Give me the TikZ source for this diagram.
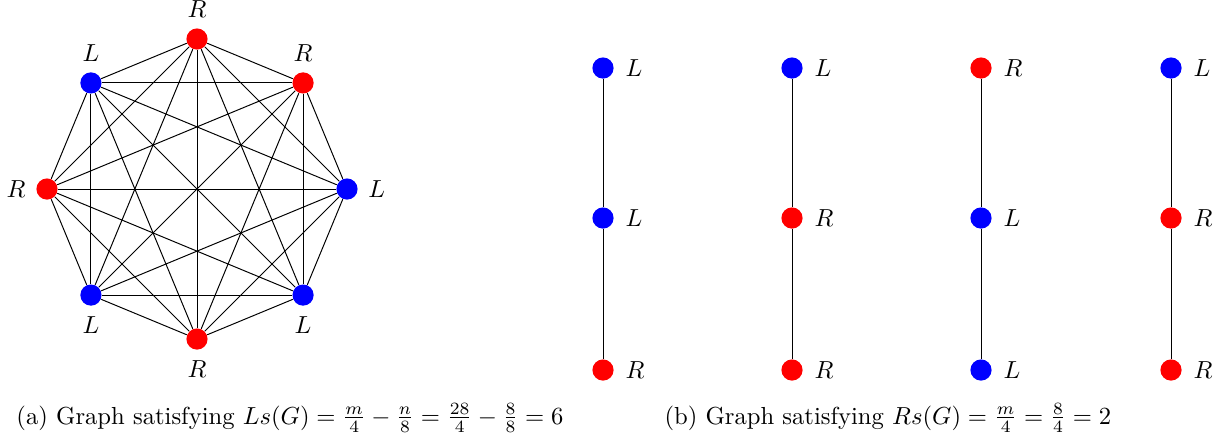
\documentclass[tikz,border=0pt]{standalone}
\begin{document}
\begin{tikzpicture}[x=0.406pt,y=-0.406pt,
  vtx/.style={circle,inner sep=0pt,minimum size=8.6pt},
  rv/.style={vtx,fill=red},
  bv/.style={vtx,fill=blue},
  edge/.style={black,line width=0.4pt},
  lab/.style={inner sep=1pt}]
\useasboundingbox (0,0) rectangle (1223,440);
% (a) complete graph K8
\foreach \i/\a/\c/\t/\p in {1/90/rv/R/above,2/45/rv/R/above,3/0/bv/L/right,4/-45/bv/L/below,5/-90/rv/R/below,6/-135/bv/L/below,7/180/rv/R/left,8/135/bv/L/above}{
  \node[\c,label={[lab,label distance=3pt]\p:$\t$}] (a\i) at ({197+150*cos(\a)},{189-150*sin(\a)}) {};
}
\begin{scope}[on background layer/.try]
\foreach \i in {1,...,8}{
  \foreach \j in {1,...,8}{
    \ifnum\i<\j \draw[edge] (a\i) -- (a\j); \fi
  }
}
\end{scope}
% (b) four paths
\foreach \k/\x/\ca/\ta/\cb/\tb/\cc/\tc in {1/603/bv/L/bv/L/rv/R,2/792/bv/L/rv/R/rv/R,3/981/rv/R/bv/L/bv/L,4/1171/bv/L/rv/R/rv/R}{
  \node[\ca,label={[lab,label distance=3.5pt]right:$\ta$}] (t\k) at (\x,68) {};
  \node[\cb,label={[lab,label distance=3.5pt]right:$\tb$}] (m\k) at (\x,218) {};
  \node[\cc,label={[lab,label distance=3.5pt]right:$\tc$}] (b\k) at (\x,370) {};
  \draw[edge] (t\k) -- (m\k) -- (b\k);
}
\node[anchor=base west,inner sep=0pt] (capa) at (16,424) {(a) Graph satisfying $Ls(G)=\frac{m}{4}-\frac{n}{8}=\frac{28}{4}-\frac{8}{8}=6$};
\node[anchor=base west,inner sep=0pt] (capb) at (664,424) {(b) Graph satisfying $Rs(G)=\frac{m}{4}=\frac{8}{4}=2$};
\end{tikzpicture}
\end{document}
